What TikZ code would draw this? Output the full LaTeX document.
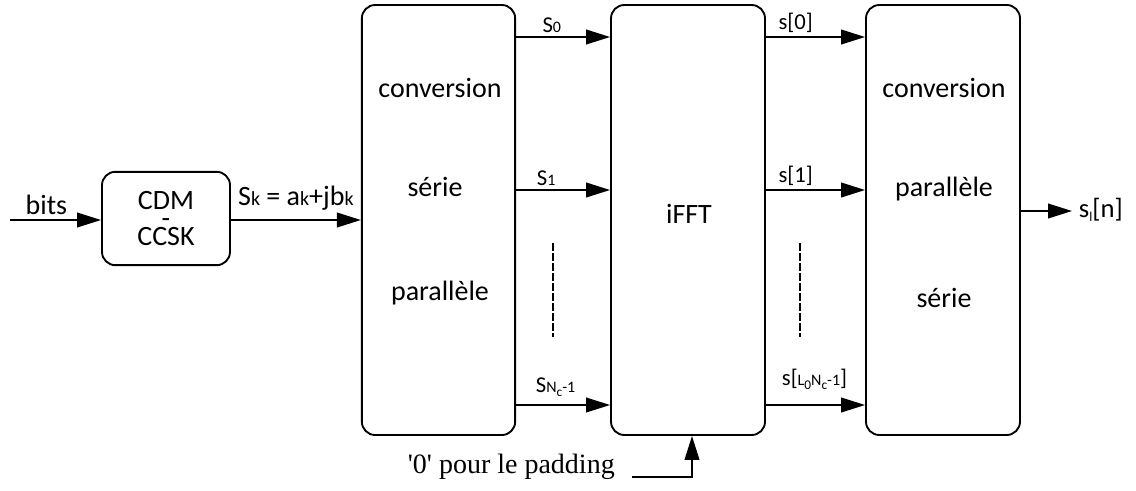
\documentclass[tikz,border=0pt]{standalone}
\usepackage{fontspec}
\setmainfont{Carlito}
\newfontfamily\padfont{Liberation Serif}
\usetikzlibrary{arrows.meta,positioning,calc}
\tikzset{every picture/.style={line width=1.4pt}}
\newcommand{\petit}[1]{{\fontsize{15}{15}\selectfont #1}}
\newcommand{\mini}[1]{{\fontsize{12}{12}\selectfont #1}}
\newcommand{\indice}[1]{\raisebox{-3pt}{\fontsize{10}{10}\selectfont #1}}

\begin{document}
\begin{tikzpicture}[x=0.75pt, y=-0.75pt,
    every node/.style={font=\fontsize{21}{25}\selectfont},
    blk/.style={draw, rounded corners=10pt, inner sep=0pt},
    lab/.style={above, inner sep=2.5pt, font=\fontsize{17}{20}\selectfont},
    fleche/.style={-{Triangle[length=18pt, width=11pt]}},
    pointille/.style={dash pattern=on 6pt off 1.5pt, line width=1.6pt}]
    \useasboundingbox (0,0) rectangle (1136,490);

    % les blocs
    \node[blk, align=center, minimum width=96pt, minimum height=70pt] (cdm) at (166,218.5) {CDM\\[-11.5pt]-\\[-11.5pt]CCSK};
    \node[blk, minimum width=115pt, minimum height=322.5pt] (sp) at (438.5,220) {};
    \node[blk, minimum width=115.5pt, minimum height=322.5pt] (ifft) at (688,220) {};
    \node[blk, minimum width=115.5pt, minimum height=322.5pt] (ps) at (943,220) {};

    % textes dans les blocs
    \node[anchor=base] (spA) at (440,97) {conversion};
    \node[anchor=base] (spB) at (435,196) {série};
    \node[anchor=base] (spC) at (440,300) {parallèle};
    \node[anchor=base] (fftA) at (689,223) {iFFT};
    \node[anchor=base] (psA) at (944,97) {conversion};
    \node[anchor=base] (psB) at (944,196) {parallèle};
    \node[anchor=base] (psC) at (944,307) {série};

    % points de repere
    \coordinate (e) at (10,220);
    \coordinate (r0) at (0,37);
    \coordinate (r1) at (0,190);
    \coordinate (rN) at (0,405);
    \coordinate (sortie) at (1072,211);
    \coordinate (pad) at (632,477);

    % entree et codage
    \draw[fleche] (e) -- (e -| cdm.west) node[pos=0.4, above] {bits};
    \draw[fleche] (cdm.east |- e) -- (sp.west |- e) node[midway, above, yshift=3pt] {S\petit{k} = a\petit{k}+jb\petit{k}};

    % sorties de la conversion serie/parallele
    \draw[fleche] (sp.east |- r0) -- (ifft.west |- r0) node[lab, pos=0.38] {S\mini{0}};
    \draw[fleche] (sp.east |- r1) -- (ifft.west |- r1) node[lab, pos=0.32] {S\mini{1}};
    \draw[fleche] (sp.east |- rN) -- (ifft.west |- rN) node[lab, pos=0.42, yshift=3pt] {S\mini{N}\indice{c}\mini{-1}};
    \draw[pointille] (553,243) -- (553,337);

    % sorties de la iFFT
    \draw[fleche] (ifft.east |- r0) -- (ps.west |- r0) node[lab, pos=0.3] {s[0]};
    \draw[fleche] (ifft.east |- r1) -- (ps.west |- r1) node[lab, pos=0.3] {s[1]};
    \draw[fleche] (ifft.east |- rN) -- (ps.west |- rN) node[lab, pos=0.49, yshift=8pt] {s[\mini{L}\indice{0}\mini{N}\indice{c}\mini{-1}]};
    \draw[pointille] (800,243) -- (800,337);

    % sortie
    \draw[fleche] (ps.east |- sortie) -- (sortie);
    \node[anchor=base west, inner sep=0pt, font=\fontsize{20}{24}\selectfont] (sl) at (1078,217) {s\indice{l}[n]};

    % padding
    \node[anchor=base west, inner sep=0pt, font=\padfont\fontsize{21}{25}\selectfont] (padtxt) at (407,473) {\textquotesingle 0\textquotesingle{} pour le padding};
    \draw[fleche] (pad) -| ([xshift=3pt]ifft.south);
\end{tikzpicture}
\end{document}
